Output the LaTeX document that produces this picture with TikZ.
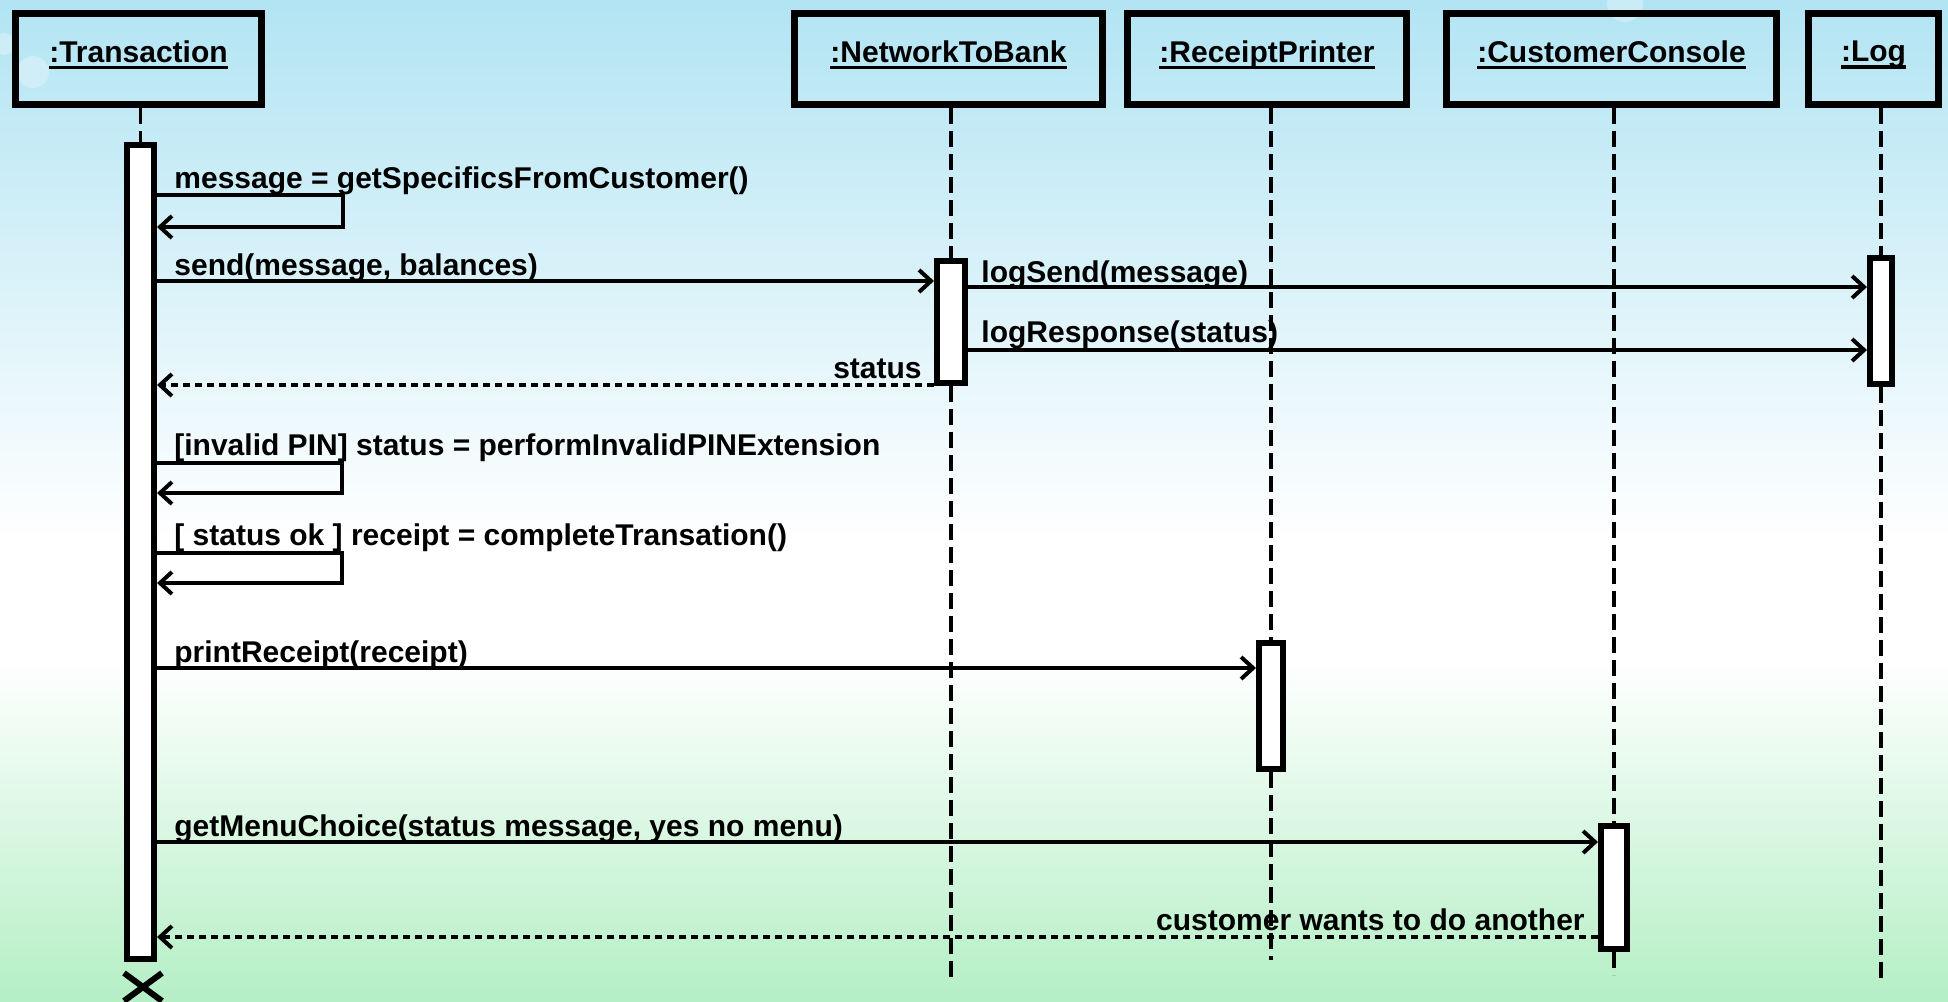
\documentclass[tikz,border=0pt]{standalone}
\usepackage{fontspec}
\setmainfont{Liberation Sans}
\usetikzlibrary{arrows.meta,shapes.misc,positioning}
\definecolor{bgblue}{RGB}{178,228,243}
\definecolor{bggreen}{RGB}{180,239,197}
\newcommand\objname[1]{\sbox0{#1}\usebox0\llap{\rule[-3.5pt]{\wd0}{1.8pt}}}
\tikzset{
    obj/.style={draw, line width=3.5pt, inner sep=0pt, text depth=7.5pt, font=\fontsize{15}{18}\selectfont\bfseries},
    act/.style={draw, fill=white, line width=3pt, inner sep=0pt},
    life/.style={line width=1.8pt, dash pattern=on 8pt off 3.5pt},
    msg/.style={draw, line width=2.4pt, -{Straight Barb[length=6pt,width=11pt,line width=2pt]}},
    ret/.style={msg, dash pattern=on 3.5pt off 2.5pt},
    lbl/.style={inner sep=0pt, font=\fontsize{15}{18}\selectfont\bfseries}
}

\begin{document}
\begin{tikzpicture}[x=0.5pt, y=-0.5pt]
    \useasboundingbox (0,0) rectangle (1948,1001);
    % background
    \shade[top color=bgblue, bottom color=white] (0,0) rectangle (1948,542);
    \fill[white] (0,540) rectangle (1948,662);
    \shade[top color=white, bottom color=bggreen] (0,660) rectangle (1948,1001);
    \fill[white, opacity=0.3] (33,72) circle (16) (4,44) circle (11) (1625,4) circle (18);

    % objects
    \node[obj, minimum width=123pt, minimum height=45.5pt] (trans) at (138.5,59) {\objname{:Transaction}};
    \node[obj, minimum width=154pt, minimum height=45.5pt] (ntb) at (948.5,59) {\objname{:NetworkToBank}};
    \node[obj, minimum width=139.5pt, minimum height=45.5pt] (rp) at (1267,59) {\objname{:ReceiptPrinter}};
    \node[obj, minimum width=165pt, minimum height=45.5pt] (cc) at (1611.5,59) {\objname{:CustomerConsole}};
    \node[obj, minimum width=65pt, minimum height=45.5pt] (log) at (1873.5,59) {\objname{:Log}};

    % activations
    \node[act, minimum width=13.5pt, minimum height=407pt] (transact) at (140.5,552) {};
    \node[act, minimum width=14pt, minimum height=61pt] (ntbact) at (951,322) {};
    \node[act, minimum width=11pt, minimum height=63pt] (logact) at (1881,321) {};
    \node[act, minimum width=12pt, minimum height=63pt] (rpact) at (1271,706) {};
    \node[act, minimum width=13pt, minimum height=61.5pt] (ccact) at (1614,887.5) {};
    \node[draw, cross out, line width=3pt, inner sep=0pt, minimum width=16pt, minimum height=11pt] (destroy) at (143,987) {};

    % lifelines
    \coordinate (ntbend) at (951,981);
    \coordinate (rpend) at (1271,960);
    \coordinate (ccend) at (1614,975);
    \coordinate (logend) at (1881,978);
    \draw[life] (transact.north |- trans.south) -- (transact.north);
    \draw[life] (ntbact.north |- ntb.south) -- (ntbact.north);
    \draw[life] (ntbact.south) -- (ntbend);
    \draw[life] (rpact.north |- rp.south) -- (rpact.north);
    \draw[life] (rpact.south) -- (rpend);
    \draw[life] (ccact.north |- cc.south) -- (ccact.north);
    \draw[life] (ccact.south) -- (ccend);
    \draw[life] (logact.north |- log.south) -- (logact.north);
    \draw[life] (logact.south) -- (logend);

    % messages
    \draw[msg] (transact.east |- 0,195) -- (343,195) -- (343,227) -- (transact.east |- 0,227);
    \draw[msg] (transact.east |- 0,281) -- (ntbact.west |- 0,281);
    \draw[msg] (ntbact.east |- 0,287) -- (logact.west |- 0,287);
    \draw[msg] (ntbact.east |- 0,350) -- (logact.west |- 0,350);
    \draw[ret] (ntbact.west |- 0,385) -- (transact.east |- 0,385);
    \draw[msg] (transact.east |- 0,463) -- (342,463) -- (342,493) -- (transact.east |- 0,493);
    \draw[msg] (transact.east |- 0,553) -- (342,553) -- (342,583) -- (transact.east |- 0,583);
    \draw[msg] (transact.east |- 0,668) -- (rpact.west |- 0,668);
    \draw[msg] (transact.east |- 0,842) -- (ccact.west |- 0,842);
    \draw[ret] (ccact.west |- 0,937) -- (transact.east |- 0,937);

    % labels
    \node[lbl, anchor=base west] (speclbl) at (174,188) {message = getSpecificsFromCustomer()};
    \node[lbl, anchor=base west] (sendlbl) at (174,275) {send(message, balances)};
    \node[lbl, anchor=base west] (logsendlbl) at (981,282) {logSend(message)};
    \node[lbl, anchor=base west] (logresplbl) at (981,342) {logResponse(status)};
    \node[lbl, anchor=base east] (statuslbl) at (922,378) {status};
    \node[lbl, anchor=base west] (invalidlbl) at (174,455) {[invalid PIN] status = performInvalidPINExtension};
    \node[lbl, anchor=base west] (oklbl) at (174,545) {[ status ok ] receipt = completeTransation()};
    \node[lbl, anchor=base west] (printlbl) at (174,662) {printReceipt(receipt)};
    \node[lbl, anchor=base west] (menulbl) at (174,836) {getMenuChoice(status message, yes no menu)};
    \node[lbl, anchor=base east] (anotherlbl) at (1585,930) {customer wants to do another};
\end{tikzpicture}
\end{document}
